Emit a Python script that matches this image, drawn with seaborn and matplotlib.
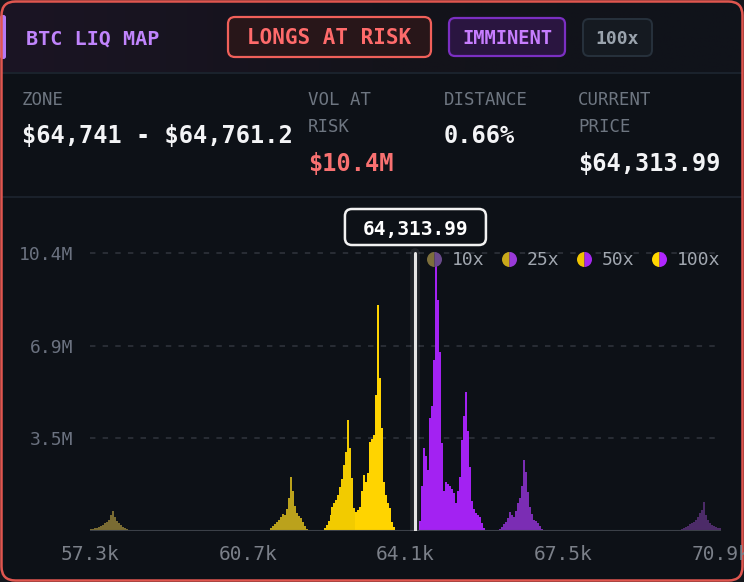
import numpy as np
import pandas as pd
import matplotlib
matplotlib.use("Agg")
import matplotlib.pyplot as plt
import seaborn as sns
from matplotlib.patches import FancyBboxPatch
from matplotlib.lines import Line2D
from matplotlib.colors import LinearSegmentedColormap

# ------------------------------------------------------------------ data
current_price = 64313.99
zone_text = "$64,741 - $64,761.2"
vol_at_risk_text = "$10.4M"
distance_text = "0.66%"
price_text = "$64,313.99"
price_label = "64,313.99"
vol_max_m = 10.4
bin_width = 43.0
leverage_tiers = ["10x", "25x", "50x", "100x"]

# long liquidations (below price), volumes in millions USD per price bin
long_10x_start = 57322
long_10x_vol = [0.07, 0.09, 0.11, 0.13, 0.15, 0.19, 0.22, 0.30, 0.34, 0.41,
                0.60, 0.75, 0.52, 0.37, 0.30, 0.22, 0.15, 0.11, 0.07]
long_25x_start = 61136
long_25x_vol = [0.04, 0.11, 0.19, 0.26, 0.34, 0.41, 0.52, 0.64, 0.60, 0.82,
                1.23, 2.02, 1.50, 0.94, 0.67, 0.56, 0.49, 0.34, 0.19, 0.07]
long_50x_start = 62364
long_50x_vol = [0.11, 0.22, 0.37, 0.60, 0.90, 1.05, 1.16, 1.35, 1.65, 1.95,
                2.47, 2.96, 4.15, 3.11, 1.98, 0.86]
long_100x_start = 63052
long_100x_vol = [0.71, 0.79, 0.90, 1.50, 2.10, 1.83, 2.17, 3.33, 3.44, 3.59,
                 5.09, 8.45, 5.72, 3.85, 1.83, 1.35, 1.05, 0.86, 0.34, 0.15]

# short liquidations (above price)
short_100x_start = 64418.5
short_100x_vol = [0.37, 1.68, 3.11, 2.81, 2.28, 4.23, 4.68, 6.40, 10.40, 8.64,
                  6.70, 3.29, 1.50, 1.83, 1.76, 1.68, 1.57, 1.42, 1.05, 1.50,
                  2.02, 3.40, 4.30, 5.20, 3.74, 2.39, 1.12, 0.82, 0.67, 0.60,
                  0.52, 0.30, 0.11]
short_25x_start = 66157
short_25x_vol = [0.07, 0.15, 0.26, 0.34, 0.49, 0.71, 0.60, 0.52, 0.75, 1.05,
                 1.23, 1.68, 2.66, 2.21, 1.46, 0.90, 0.64, 0.41, 0.37, 0.30,
                 0.19, 0.07]
short_10x_start = 69993
short_10x_vol = [0.04, 0.07, 0.11, 0.15, 0.19, 0.26, 0.30, 0.34, 0.41, 0.52,
                 0.67, 0.79, 1.08, 0.60, 0.41, 0.30, 0.22, 0.19, 0.15, 0.11,
                 0.11]

x_ticks = [57300, 60700, 64100, 67500, 70900]
x_tick_labels = ["57.3k", "60.7k", "64.1k", "67.5k", "70.9k"]
y_ticks_m = [3.47, 6.93, 10.4]
y_tick_labels = ["3.5M", "6.9M", "10.4M"]

# ------------------------------------------------------------------ styles
long_colors = {"10x": "#7a6c33", "25x": "#bba21c", "50x": "#f2cb00", "100x": "#ffd400"}
short_colors = {"10x": "#4c2b68", "25x": "#7b2db4", "50x": "#a526ee", "100x": "#a322f2"}
legend_long = {"10x": "#7d6f3c", "25x": "#c9a81a", "50x": "#f0c400", "100x": "#ffd600"}
legend_short = {"10x": "#6a4a8c", "25x": "#9a3ad8", "50x": "#a528ee", "100x": "#b026ff"}

clusters = [
    ("long", "10x", long_10x_start, long_10x_vol),
    ("long", "25x", long_25x_start, long_25x_vol),
    ("long", "50x", long_50x_start, long_50x_vol),
    ("long", "100x", long_100x_start, long_100x_vol),
    ("short", "100x", short_100x_start, short_100x_vol),
    ("short", "25x", short_25x_start, short_25x_vol),
    ("short", "10x", short_10x_start, short_10x_vol),
]
rows = []
for side, lev, start, vols in clusters:
    for i, v in enumerate(vols):
        rows.append({"side": side, "lev": lev, "price": start + i * bin_width, "vol": v * 1e6})
df = pd.DataFrame(rows)

# ------------------------------------------------------------------ figure
sns.set_theme(style="dark")
plt.rcParams["font.family"] = ["DejaVu Sans Mono", "DejaVu Sans"]
W, H = 744, 582
fig = plt.figure(figsize=(W / 100, H / 100), dpi=100)
fig.patch.set_facecolor("#14161c")

MONO = "DejaVu Sans Mono"
bg = fig.add_axes([0, 0, 1, 1], zorder=0)
bg.axis("off")
card = FancyBboxPatch((1.5, 1.5), W - 3, H - 3, boxstyle="round,pad=0,rounding_size=14",
                      fc="#0d1117", ec="none", zorder=0)
bg.add_patch(card)
cmap = LinearSegmentedColormap.from_list("hdr", ["#1b1524", "#14131b", "#10131a"])
im = bg.imshow(np.linspace(0, 1, 256).reshape(1, -1), extent=(0, W, 72, 0), cmap=cmap,
               aspect="auto", zorder=1, interpolation="bilinear")
im.set_clip_path(card)
bg.set_xlim(0, W)
bg.set_ylim(H, 0)
bg.plot([2, W - 2], [72.5, 72.5], color="#1d2631", lw=1.2, zorder=2)
bg.plot([2, W - 2], [196.5, 196.5], color="#1d2530", lw=1.2, zorder=2)
bg.add_patch(FancyBboxPatch((1.5, 1.5), W - 3, H - 3, boxstyle="round,pad=0,rounding_size=14",
                            fc="none", ec="#e0564f", lw=1.8, zorder=6))

# header
bg.add_patch(FancyBboxPatch((0, 15), 6, 44, boxstyle="round,pad=0,rounding_size=2.5",
                            fc="#b57af5", ec="none", zorder=3))
bg.text(26, 45, "BTC LIQ MAP", color="#c084fc", fontsize=14.5, fontweight="bold",
        family=MONO, va="baseline", ha="left", zorder=4, parse_math=False)
bg.add_patch(FancyBboxPatch((228, 17), 203, 40, boxstyle="round,pad=0,rounding_size=7",
                            fc="#281619", ec="#f0605a", lw=1.6, zorder=3))
bg.text(329.5, 44.3, "LONGS AT RISK", color="#ff6b6b", fontsize=15, fontweight="bold",
        family=MONO, va="baseline", ha="center", zorder=4, parse_math=False)
bg.add_patch(FancyBboxPatch((449, 18), 116, 38, boxstyle="round,pad=0,rounding_size=6",
                            fc="#2a1540", ec="#7b2fc2", lw=1.6, zorder=3))
bg.text(507, 44.3, "IMMINENT", color="#c77dff", fontsize=13.5, fontweight="bold",
        family=MONO, va="baseline", ha="center", zorder=4, parse_math=False)
bg.add_patch(FancyBboxPatch((583, 19), 69, 37, boxstyle="round,pad=0,rounding_size=6",
                            fc="#151a21", ec="#27313c", lw=1.4, zorder=3))
bg.text(617.5, 44.3, "100x", color="#9aa3ad", fontsize=13, fontweight="bold",
        family=MONO, va="baseline", ha="center", zorder=4, parse_math=False)

# stats
lab_kw = dict(color="#6e7681", fontsize=12.5, family=MONO, va="baseline", ha="left",
              zorder=4, parse_math=False)
val_kw = dict(fontsize=17, fontweight="bold", family=MONO, va="baseline", ha="left",
              zorder=4, parse_math=False)
bg.text(22, 105, "ZONE", **lab_kw)
bg.text(22, 143.3, zone_text, color="#f3f4f6", **val_kw)
bg.text(308, 105, "VOL AT", **lab_kw)
bg.text(308, 131.7, "RISK", **lab_kw)
bg.text(308, 170.7, vol_at_risk_text, color="#f87171", **val_kw)
bg.text(444, 105, "DISTANCE", **lab_kw)
bg.text(444, 143.3, distance_text, color="#f3f4f6", **val_kw)
bg.text(578, 105, "CURRENT", **lab_kw)
bg.text(578, 131.7, "PRICE", **lab_kw)
bg.text(578, 170.7, price_text, color="#f3f4f6", **val_kw)

# ------------------------------------------------------------------ chart
ax = fig.add_axes([90 / W, 51 / H, 631 / W, 286 / H], zorder=2)
ax.patch.set_alpha(0)
bin_origin = 57259
n_bins = 322
for side, lev, start, vols in clusters:
    sub = df[(df.side == side) & (df.lev == lev)]
    col = long_colors[lev] if side == "long" else short_colors[lev]
    sns.histplot(data=sub, x="price", weights="vol", binwidth=bin_width,
                 binrange=(bin_origin, bin_origin + n_bins * bin_width), color=col, alpha=1.0,
                 edgecolor="none", linewidth=0, ax=ax, zorder=3)

ax.set_xlim(x_ticks[0], x_ticks[-1])
ax.set_ylim(0, 10.7e6)
ax.set_xlabel("")
ax.set_ylabel("")
for s in ax.spines.values():
    s.set_visible(False)
ax.set_xticks(x_ticks)
ax.set_xticklabels(x_tick_labels)
ax.set_yticks([v * 1e6 for v in y_ticks_m])
ax.set_yticklabels(y_tick_labels)
ax.tick_params(axis="x", length=0, pad=10, labelsize=14, colors="#7b8089")
ax.tick_params(axis="y", length=0, pad=12, labelsize=13, colors="#6b7280")
for t in ax.get_xticklabels() + ax.get_yticklabels():
    t.set_family(MONO)
ax.yaxis.grid(True, linestyle=(0, (3, 4)), color="#2b3038", lw=1.3)
ax.xaxis.grid(False)
ax.set_axisbelow(True)
ax.axhline(0, color="#3b4048", lw=1.5, zorder=4)

# current price marker
ymax_frac = vol_max_m * 1e6 / ax.get_ylim()[1]
ax.axvline(current_price, ymin=0, ymax=ymax_frac, color="#ffffff", lw=7, alpha=0.08, zorder=4)
ax.axvline(current_price, ymin=0, ymax=ymax_frac, color="#e6e6e6", lw=2.2, zorder=5)

ov = fig.add_axes([0, 0, 1, 1], zorder=3)
ov.axis("off")
ov.set_xlim(0, W)
ov.set_ylim(H, 0)
px = ax.transData.transform((current_price, 0))[0]
ov.add_patch(FancyBboxPatch((px - 70.5, 209), 141, 36, boxstyle="round,pad=0,rounding_size=7",
                            fc="#0d1117", ec="#f2f2f2", lw=1.8))
ov.text(px, 234.5, price_label, color="#ffffff", fontsize=14, fontweight="bold",
        family=MONO, ha="center", va="baseline", parse_math=False)

# legend with split circles
handles = [Line2D([0], [0], marker="o", ls="", markersize=10.8, fillstyle="left",
                  markerfacecolor=legend_long[t], markerfacecoloralt=legend_short[t],
                  markeredgewidth=0) for t in leverage_tiers]
leg = ax.legend(handles, leverage_tiers, loc="center right", ncol=4, frameon=False,
                bbox_to_anchor=(720 / W, 1 - 260 / H), bbox_transform=fig.transFigure,
                prop={"family": MONO, "size": 13}, labelcolor="#a1a7b0",
                handlelength=0.9, handletextpad=0.5, columnspacing=0.95,
                borderpad=0, borderaxespad=0)
leg.set_zorder(10)

fig.savefig("out.png", dpi=100, facecolor=fig.get_facecolor())
